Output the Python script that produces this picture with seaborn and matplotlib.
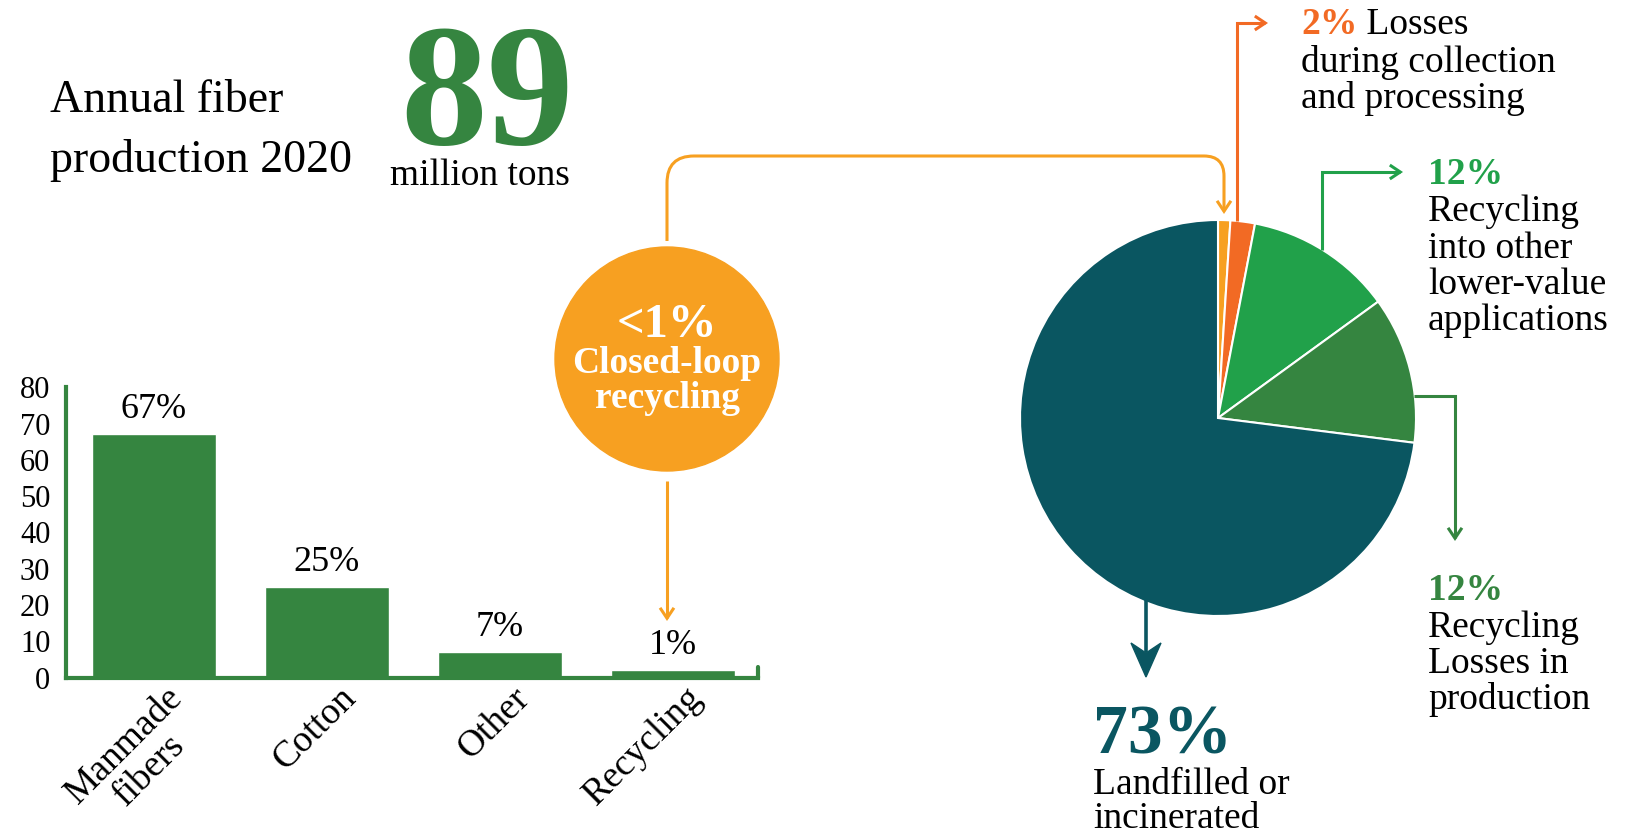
import matplotlib
matplotlib.use("Agg")
import matplotlib.pyplot as plt
import matplotlib.transforms as mtransforms
from matplotlib.path import Path
from matplotlib.patches import FancyArrowPatch, Circle, Polygon, ArrowStyle
import seaborn as sns
import pandas as pd

# ---------------- data ----------------
categories = ["Manmade\nfibers", "Cotton", "Other", "Recycling"]
shares = [67, 25, 7, 2]
share_labels = ["67%", "25%", "7%", "1%"]
y_ticks = [0, 10, 20, 30, 40, 50, 60, 70, 80]

pie_names = ["Closed-loop recycling", "Losses during collection and processing",
             "Recycling into other lower-value applications",
             "Recycling losses in production", "Landfilled or incinerated"]
pie_values = [1, 2, 12, 12, 73]

total_production = "89"
total_unit = "million tons"

# ---------------- style ----------------
GREEN = "#358540"
ORANGE = "#F7A021"
RED = "#F26A24"
LGREEN = "#21A14A"
TEAL = "#0A5661"
pie_colors = [ORANGE, RED, LGREEN, GREEN, TEAL]

sns.set_style("white")
plt.rcParams["font.family"] = ["Liberation Serif", "DejaVu Serif"]
plt.rcParams["text.color"] = "black"
plt.rcParams["xtick.labelcolor"] = "black"
plt.rcParams["ytick.labelcolor"] = "black"

W, H = 1632, 836
fig = plt.figure(figsize=(W / 100, H / 100), dpi=100)
fig.patch.set_facecolor("white")

# ---------------- bar chart ----------------
bl, br, bt, bb = 65.6, 757.7, 387.2, 677.6
ax = fig.add_axes([bl / W, 1 - bb / H, (br - bl) / W, (bb - bt) / H])
df = pd.DataFrame({"category": categories, "share": shares})
sns.barplot(data=df, x="category", y="share", color=GREEN, saturation=1,
            width=0.716, ax=ax)
ax.set_xlim(-0.508, 3.49)
ax.set_ylim(0, 80)
ax.set_xlabel("")
ax.set_ylabel("")
ax.bar_label(ax.containers[0], labels=share_labels, padding=6, fontsize=26,
             color="black")
for s in ["top", "right"]:
    ax.spines[s].set_visible(False)
for s in ["left", "bottom"]:
    ax.spines[s].set_color(GREEN)
    ax.spines[s].set_linewidth(3)
ax.set_yticks(y_ticks)
ax.tick_params(axis="y", direction="in", length=12, width=3, color=GREEN,
               labelsize=22, pad=11, labelcolor="black")
ax.tick_params(axis="x", length=0, pad=0, labelcolor="black")
ax.set_xticks(range(len(categories)))
ax.set_xticklabels(categories, rotation=45, ha="right", va="top",
                   rotation_mode="anchor", fontsize=27, multialignment="center",
                   linespacing=1.0)
off = mtransforms.ScaledTranslation(0.12, -0.03, fig.dpi_scale_trans)
for lab in ax.get_xticklabels():
    lab.set_transform(lab.get_transform() + off)
ax.plot([1, 1], [0, 0.035], transform=ax.transAxes, color=GREEN, lw=3,
        clip_on=False)

# ---------------- pie ----------------
cx, cy, r = 1218, 418, 198
half = r * 1.02
axp = fig.add_axes([(cx - half) / W, 1 - (cy + half) / H, 2 * half / W, 2 * half / H])
axp.pie(pie_values, colors=pie_colors, startangle=90, counterclock=False,
        radius=1, wedgeprops=dict(edgecolor="white", linewidth=1.5))
axp.set_xlim(-1.02, 1.02)
axp.set_ylim(-1.02, 1.02)
axp.set_aspect("auto")
axp.axis("off")

# ---------------- overlay (pixel coords) ----------------
ov = fig.add_axes([0, 0, 1, 1])
ov.set_xlim(0, W)
ov.set_ylim(H, 0)
ov.axis("off")
ov.patch.set_alpha(0)


def lines(x, y0, step, parts, **kw):
    for i, s in enumerate(parts):
        ov.text(x, y0 + i * step, s, va="baseline", ha="left", **kw)


def arrow_path(verts, codes, color, lw=2.2):
    p = FancyArrowPatch(path=Path(verts, codes),
                        arrowstyle=ArrowStyle("->", head_length=0.75, head_width=0.5),
                        mutation_scale=10, lw=lw, color=color,
                        joinstyle="miter", capstyle="butt")
    ov.add_patch(p)


# title
ov.text(50, 112, "Annual fiber", fontsize=33, va="baseline")
ov.text(50, 172, "production 2020", fontsize=33, va="baseline")
ov.text(400, 144, total_production, fontsize=125, fontweight="bold", color=GREEN,
        va="baseline")
ov.text(390, 185, total_unit, fontsize=27, va="baseline")

# closed-loop circle
ov.add_patch(Circle((667, 359), 112, color=ORANGE, zorder=3))
ov.text(667, 337, "<1%", fontsize=35, fontweight="bold", color="white",
        ha="center", va="baseline", zorder=4)
ov.text(667, 373, "Closed-loop", fontsize=27, fontweight="bold", color="white",
        ha="center", va="baseline", zorder=4)
ov.text(667, 408, "recycling", fontsize=27, fontweight="bold", color="white",
        ha="center", va="baseline", zorder=4)

M, L, C = Path.MOVETO, Path.LINETO, Path.CURVE3
# orange connector to pie
arrow_path([(667, 241), (667, 183), (667, 156), (694, 156), (1204, 156),
            (1224, 156), (1224, 176), (1224, 214)],
           [M, L, C, C, L, C, C, L], ORANGE)
# orange arrow down to recycling bar
arrow_path([(667, 481), (667, 621)], [M, L], ORANGE)
# red
arrow_path([(1237, 221), (1237, 23), (1268, 23)], [M, L, L], RED)
# light green
arrow_path([(1322, 250), (1322, 172), (1403, 172)], [M, L, L], LGREEN)
# dark green
arrow_path([(1414, 395.5), (1455, 395.5), (1455, 541)], [M, L, L], GREEN)
# teal
ov.plot([1146, 1146], [598, 652], color=TEAL, lw=2.6, solid_capstyle="butt")
ov.add_patch(Polygon([(1146, 677), (1131, 643), (1146, 653), (1161, 643)],
                     closed=True, color=TEAL))

FS = 27
# red label
t = ov.text(1301, 34, "2%", fontsize=FS, fontweight="bold", color=RED, va="baseline")
ov.annotate(" Losses", xy=(1, 0), xycoords=t, fontsize=FS, va="bottom", ha="left")
lines(1301, 71.5, 37, ["during collection", "and processing"], fontsize=FS)

# light green label
ov.text(1428, 184, "12%", fontsize=FS, fontweight="bold", color=LGREEN, va="baseline")
lines(1428, 221, 36.5, ["Recycling", "into other", "lower-value", "applications"],
      fontsize=FS)

# dark green label
ov.text(1428, 600, "12%", fontsize=FS, fontweight="bold", color=GREEN, va="baseline")
lines(1428, 637, 36, ["Recycling", "Losses in", "production"], fontsize=FS)

# teal label
ov.text(1093, 754, "73%", fontsize=50, fontweight="bold", color=TEAL, va="baseline")
lines(1093, 794, 34, ["Landfilled or", "incinerated"], fontsize=FS)

fig.savefig("out.png", dpi=100, facecolor="white")
